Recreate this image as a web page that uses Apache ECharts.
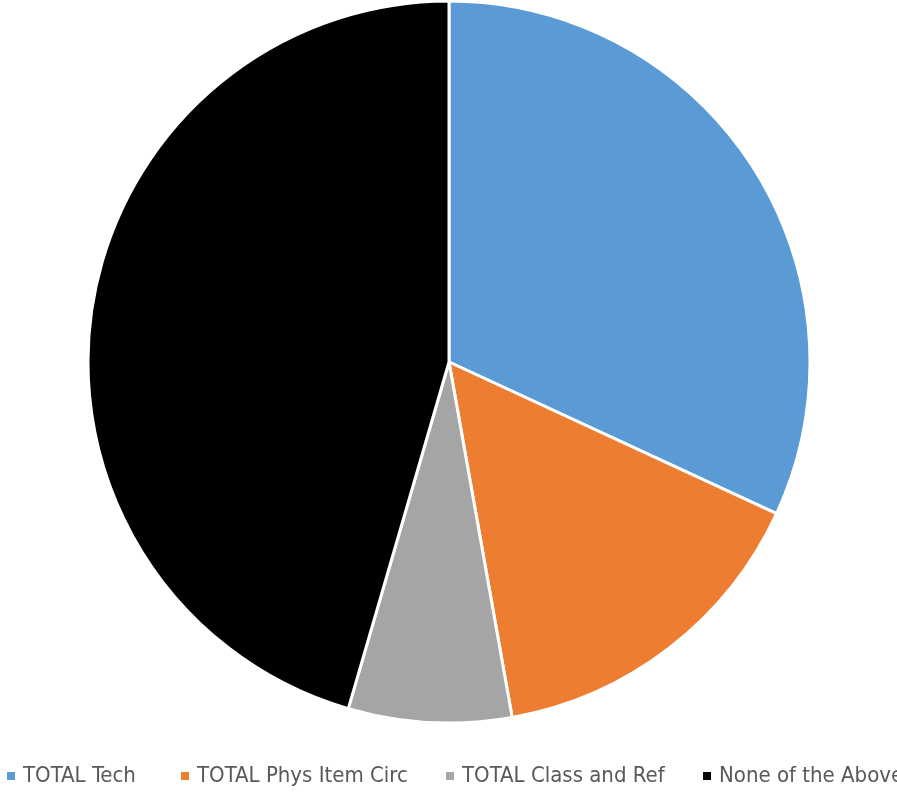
<!DOCTYPE html>
<html>
<head>
<meta charset="utf-8">
<script src="https://cdn.jsdelivr.net/npm/echarts@6/dist/echarts.min.js"></script>
<style>
html,body{margin:0;padding:0;background:#fff;}
#c{width:897px;height:792px;}
</style>
</head>
<body>
<div id="c"></div>
<script>
var categories = ["TOTAL Tech", "TOTAL Phys Item Circ", "TOTAL Class and Ref", "None of the Above"];
var values = [31.9, 15.3, 7.3, 45.5];
var colors = ["#5B9BD5", "#ED7D31", "#A5A5A5", "#000000"];
var legendLeft = [7, 181, 446, 703];

var chart = echarts.init(document.getElementById('c'), null, {renderer: 'canvas'});
chart.setOption({
  animation: false,
  color: colors,
  legend: categories.map(function (c, i) {
    return {
      orient: 'horizontal',
      left: legendLeft[i],
      top: 765,
      padding: 0,
      width: 600,
      itemWidth: 8,
      itemHeight: 8,
      icon: 'rect',
      selectedMode: false,
      itemStyle: {borderWidth: 0},
      textStyle: {
        fontFamily: '"DejaVu Sans Condensed", "Liberation Sans", sans-serif',
        fontSize: 22,
        color: '#595959',
        padding: [0, 0, 0, 3]
      },
      data: [c]
    };
  }),
  series: [{
    type: 'pie',
    center: [449, 362],
    radius: 361,
    startAngle: 90,
    clockwise: true,
    label: {show: false},
    labelLine: {show: false},
    itemStyle: {borderColor: '#ffffff', borderWidth: 3},
    emphasis: {disabled: true},
    data: categories.map(function (c, i) { return {name: c, value: values[i]}; })
  }]
});
</script>
</body>
</html>
